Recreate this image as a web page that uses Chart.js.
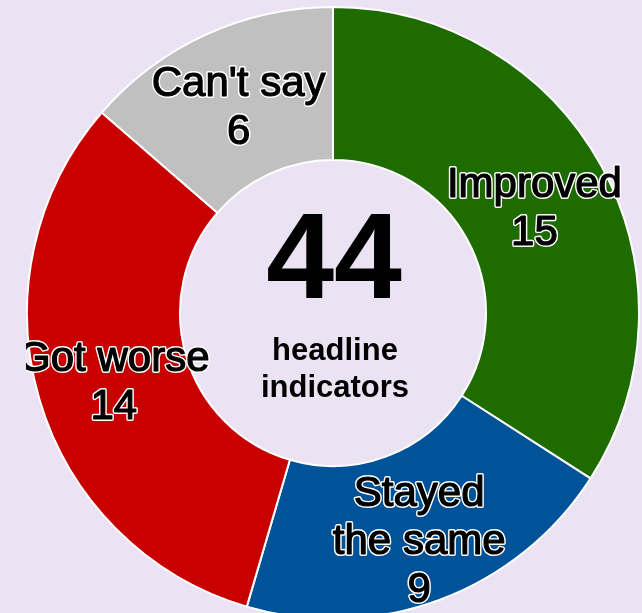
<!DOCTYPE html>
<html lang="en">
<head>
    <meta charset="UTF-8">
    <title>Headline indicators</title>
    <script src="https://cdn.jsdelivr.net/npm/chart.js@4.4.0/dist/chart.umd.min.js"></script>
    <style>
        html, body { margin: 0; padding: 0; overflow: hidden; background: #ebe2f3; }
        #wrap { position: absolute; left: 26px; top: 6px; width: 614px; height: 614px; }
    </style>
</head>
<body>
    <div id="wrap"><canvas id="donut" width="614" height="614"></canvas></div>

    <script>
        const categories = ['Improved', 'Stayed the same', 'Got worse', "Can't say"];
        const labelLines = [['Improved'], ['Stayed', 'the same'], ['Got worse'], ["Can't say"]];
        const counts = [15, 9, 14, 6];
        const colours = ['#1e6b00', '#005399', '#c80000', '#c0c0c0'];
        const total = 44;
        const centreLines = ['headline', 'indicators'];

        // small nudges so labels sit where the original put them
        const nudges = [[0, 6], [6, 14], [1, 6], [1, 4]];

        // black text with a thin white halo
        const outlined = (ctx, text, x, y) => {
            ctx.lineWidth = 4;
            ctx.strokeStyle = '#ffffff';
            ctx.strokeText(text, x, y);
            ctx.fillStyle = '#000000';
            ctx.fillText(text, x, y);
            ctx.lineWidth = 1.2;
            ctx.strokeStyle = '#000000';
            ctx.strokeText(text, x, y);
        };

        const labelPlugin = {
            id: 'sliceLabels',
            afterDatasetsDraw(chart) {
                const ctx = chart.ctx;
                const meta = chart.getDatasetMeta(0);
                ctx.save();
                ctx.textAlign = 'center';
                ctx.textBaseline = 'middle';
                ctx.font = '42px "Liberation Sans", Arial, sans-serif';
                ctx.lineJoin = 'round';
                meta.data.forEach((arc, i) => {
                    const pos = arc.tooltipPosition();
                    const lines = [...labelLines[i], String(counts[i])];
                    const lh = 48;
                    const x = pos.x + nudges[i][0];
                    const y0 = pos.y + nudges[i][1] - (lines.length - 1) * lh / 2;
                    lines.forEach((t, j) => outlined(ctx, t, x, y0 + j * lh));
                });

                // centre text
                const arc0 = meta.data[0];
                const cx = arc0.x, cy = arc0.y;
                ctx.fillStyle = '#000000';
                ctx.font = 'bold 122px "Liberation Sans", Arial, sans-serif';
                ctx.fillText(String(total), cx + 1, cy - 49);
                ctx.font = 'bold 31px "Liberation Sans", Arial, sans-serif';
                ctx.fillText(centreLines[0], cx + 2, cy + 38);
                ctx.fillText(centreLines[1], cx + 2, cy + 75);
                ctx.restore();
            }
        };

        new Chart(document.getElementById('donut'), {
            type: 'doughnut',
            data: {
                labels: categories,
                datasets: [{
                    data: counts,
                    backgroundColor: colours,
                    borderColor: '#ffffff',
                    borderWidth: 2
                }]
            },
            options: {
                responsive: false,
                animation: false,
                cutout: '50%',
                layout: { padding: 0 },
                plugins: {
                    legend: { display: false },
                    tooltip: { enabled: false }
                }
            },
            plugins: [labelPlugin]
        });
    </script>
</body>
</html>
